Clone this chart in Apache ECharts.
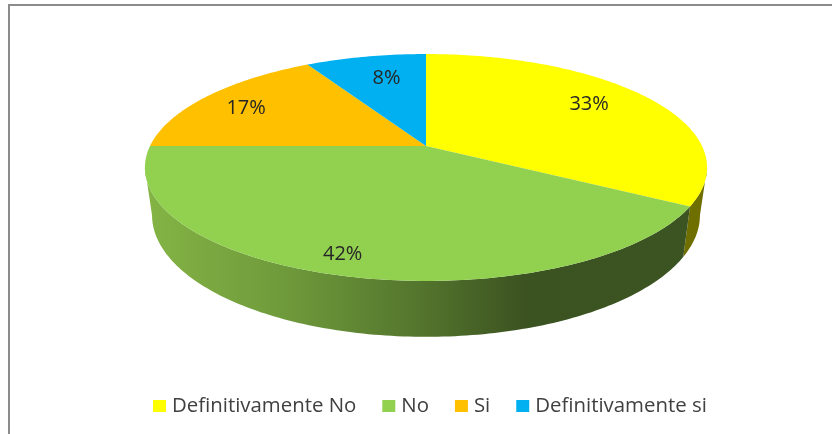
<!DOCTYPE html>
<html>
<head>
<meta charset="utf-8">
<script src="https://cdn.jsdelivr.net/npm/echarts@6/dist/echarts.min.js"></script>
<style>
  html, body { margin: 0; padding: 0; background: #fff; }
  #chart { width: 832px; height: 434px; }
</style>
</head>
<body>
<div id="chart"></div>
<script>
const categories = ['Definitivamente No', 'No', 'Si', 'Definitivamente si'];
const values = [4, 5, 2, 1];
const percentLabels = ['33%', '42%', '17%', '8%'];
const colors = ['#ffff00', '#92d050', '#ffc000', '#00b0f0'];

// tilted disc: top face and bottom rim seen through a small perspective
const topFace = { x: 426, y: 146, a: 276, b: 109.4 };
const bottomRim = { x: 426, y: 192, a: 269, b: 117.4 };
const persp = 0.1894;
const frontFrom = 101, frontTo = 259; // part of the wall that faces the viewer

// where the percent text sits in each slice
const labelRadius = [0.76, 0.87, 0.79, 0.72];
const labelTurn = [-3, 2, -2, 2];

const wallStyles = [
  '#6f6f00',
  new echarts.graphic.LinearGradient(145, 0, 707, 0, [
    { offset: 0, color: '#84b445' },
    { offset: 0.25, color: '#6f9a3b' },
    { offset: 0.5, color: '#52732c' },
    { offset: 0.68, color: '#3b5221' },
    { offset: 1, color: '#3c5422' }
  ], true),
  '#b38600',
  '#007cab'
];

const total = values.reduce((s, v) => s + v, 0);

function project(face, deg, r) {
  const t = deg * Math.PI / 180;
  const u = r * Math.sin(t), v = -r * Math.cos(t);
  const w = 1 - persp * v;
  return [face.x + face.a * u / w, face.y + face.b * v / w];
}

function arc(face, from, to) {
  const pts = [];
  const n = Math.max(2, Math.ceil(Math.abs(to - from)));
  for (let i = 0; i <= n; i++) pts.push(project(face, from + (to - from) * i / n, 1));
  return pts;
}

function sliceItem(index, from, to) {
  const children = [];
  const wallFrom = Math.max(from, frontFrom), wallTo = Math.min(to, frontTo);
  if (wallTo > wallFrom) {
    children.push({
      type: 'polygon',
      shape: { points: arc(topFace, wallFrom, wallTo).concat(arc(bottomRim, wallTo, wallFrom)) },
      style: { fill: wallStyles[index] }
    });
  }
  children.push({
    type: 'polygon',
    shape: { points: [[topFace.x, topFace.y]].concat(arc(topFace, from, to)) },
    style: { fill: colors[index] }
  });
  const at = project(topFace, (from + to) / 2 + labelTurn[index], labelRadius[index]);
  children.push({
    type: 'text',
    style: {
      x: at[0], y: at[1], text: percentLabels[index],
      fill: '#262626', font: '20px "Open Sans"',
      align: 'center', verticalAlign: 'middle'
    }
  });
  return { type: 'group', children: children };
}

let sum = 0;
const series = categories.map((name, i) => {
  const from = sum / total * 360;
  sum += values[i];
  const to = sum / total * 360;
  return {
    name: name,
    type: 'custom',
    coordinateSystem: 'none',
    itemStyle: { color: colors[i] },
    data: [[values[i]]],
    renderItem: () => sliceItem(i, from, to)
  };
});

const chart = echarts.init(document.getElementById('chart'));
chart.setOption({
  animation: false,
  backgroundColor: '#fff',
  legend: {
    data: categories,
    left: 148,
    top: 391,
    icon: 'rect',
    itemWidth: 13,
    itemHeight: 12,
    itemGap: 26,
    textStyle: { fontFamily: 'Open Sans', fontSize: 20.4, color: '#404040', padding: [0, 0, 0, 1] }
  },
  graphic: [
    { type: 'line', shape: { x1: 9, y1: 5, x2: 9, y2: 434 }, style: { stroke: '#8c8c8c', lineWidth: 2 } },
    { type: 'line', shape: { x1: 8, y1: 5, x2: 832, y2: 5 }, style: { stroke: '#8c8c8c', lineWidth: 2 } }
  ],
  series: series
});
</script>
</body>
</html>
